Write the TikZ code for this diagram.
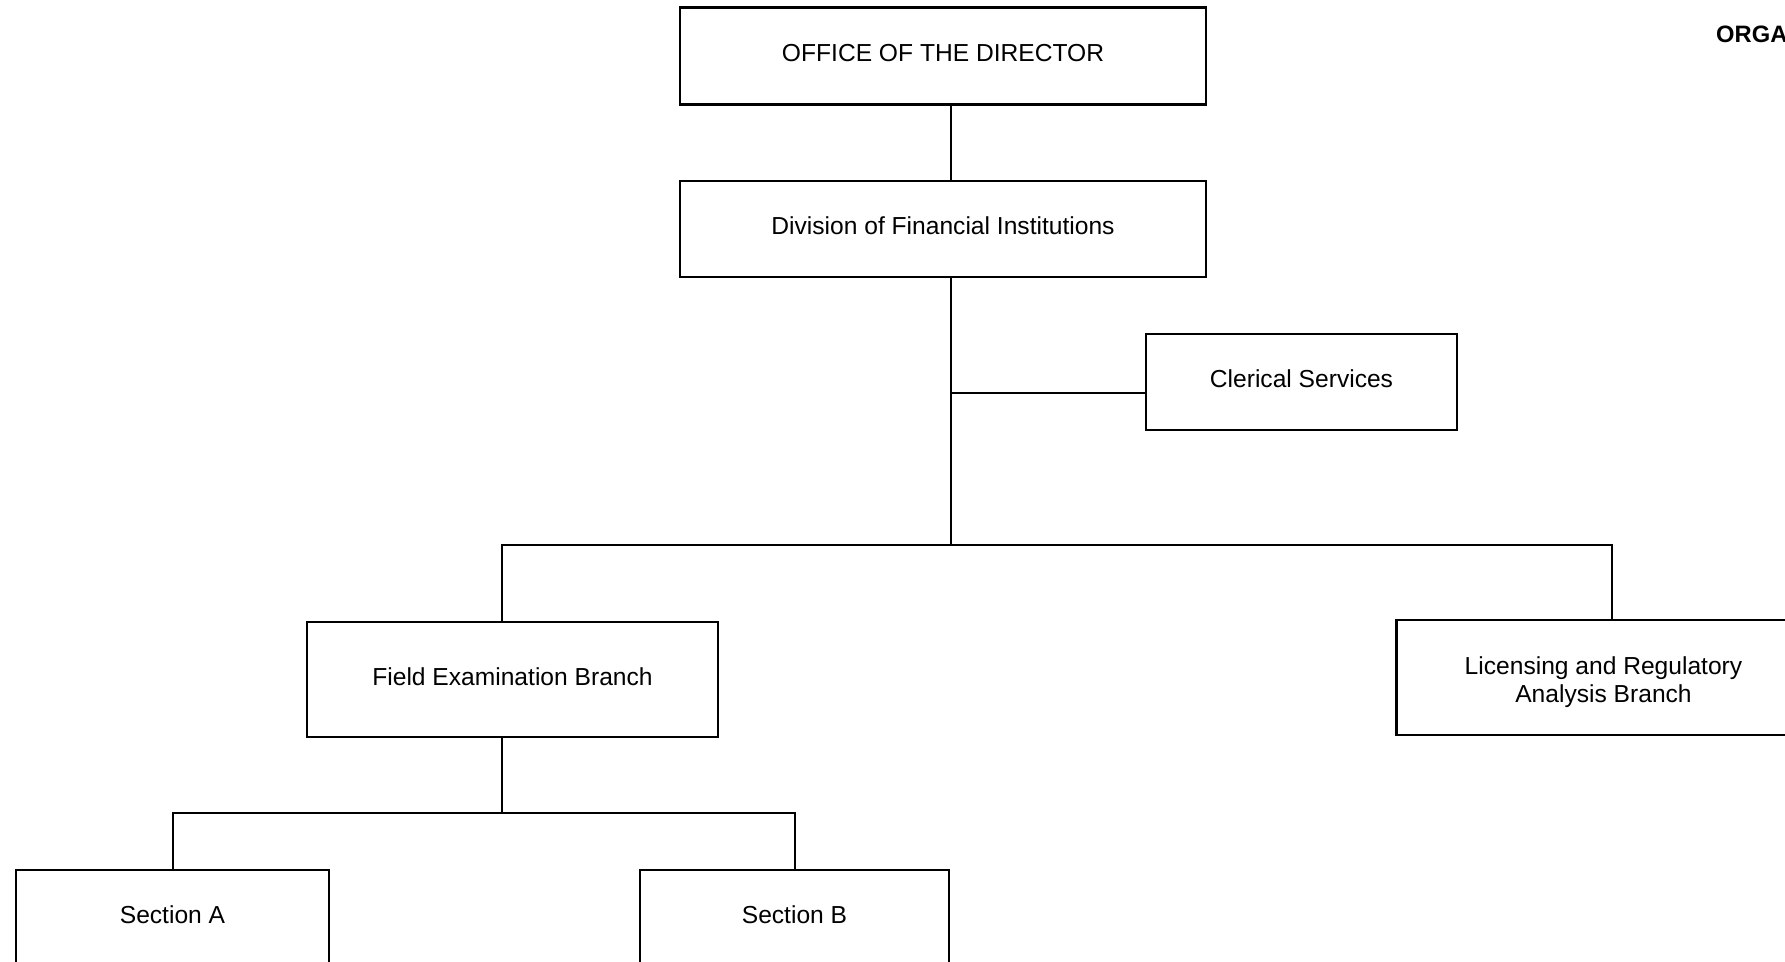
\documentclass[tikz,border=0pt]{standalone}
\usepackage{fontspec}
\setmainfont{Liberation Sans}
\usetikzlibrary{calc}

\begin{document}
\begin{tikzpicture}[x=0.02cm, y=-0.02cm,
  unit/.style={draw, line width=1.2pt, align=center, inner sep=0pt,
    text height=10pt, text depth=3.2pt,
    font=\fontsize{14}{15.5}\selectfont},
  link/.style={-, line width=1.2pt}]

\useasboundingbox (0, 0) rectangle (1785, 961);

\node[anchor=west, font=\fontsize{13.5}{16}\selectfont\bfseries] (title) at (1710, 34) {ORGANIZATION};

\node[unit, minimum width=526*0.02cm, minimum height=97*0.02cm] (office) at (943, 56) {OFFICE OF THE DIRECTOR};
\node[unit, minimum width=526*0.02cm, minimum height=96*0.02cm] (division) at (943, 229) {Division of Financial Institutions};
\node[unit, minimum width=311*0.02cm, minimum height=96*0.02cm] (clerical) at (1301.5, 382) {Clerical Services};
\node[unit, minimum width=411*0.02cm, minimum height=115*0.02cm] (field) at (512.5, 679.5) {Field Examination Branch};
\node[unit, text height=30.8pt, text depth=2.9pt, minimum width=414*0.02cm, minimum height=115*0.02cm] (licensing) at (1603.5, 677.5) {Licensing and Regulatory\\Analysis Branch};
\node[unit, text depth=6.5pt, minimum width=313*0.02cm, minimum height=100*0.02cm] (secA) at (172.5, 920) {Section A};
\node[unit, text depth=6.5pt, minimum width=309*0.02cm, minimum height=100*0.02cm] (secB) at (794.5, 920) {Section B};

\coordinate (bar) at (951, 545);
\coordinate (cl) at (951, 393);
\coordinate (barL) at (502, 545);
\coordinate (barR) at (1612, 545);
\coordinate (subL) at (173, 813);
\coordinate (subR) at (795, 813);

\draw[link] (office.south -| bar) -- (division.north -| bar);
\draw[link] (division.south -| bar) -- (bar);
\draw[link] (cl) -- (cl -| clerical.west);
\draw[link] (field.north -| barL) -- (barL) -- (barR) -- (licensing.north -| barR);
\draw[link] (field.south -| barL) -- (subL -| barL);
\draw[link] (secA.north -| subL) -- (subL) -- (subR) -- (secB.north -| subR);

\end{tikzpicture}
\end{document}
